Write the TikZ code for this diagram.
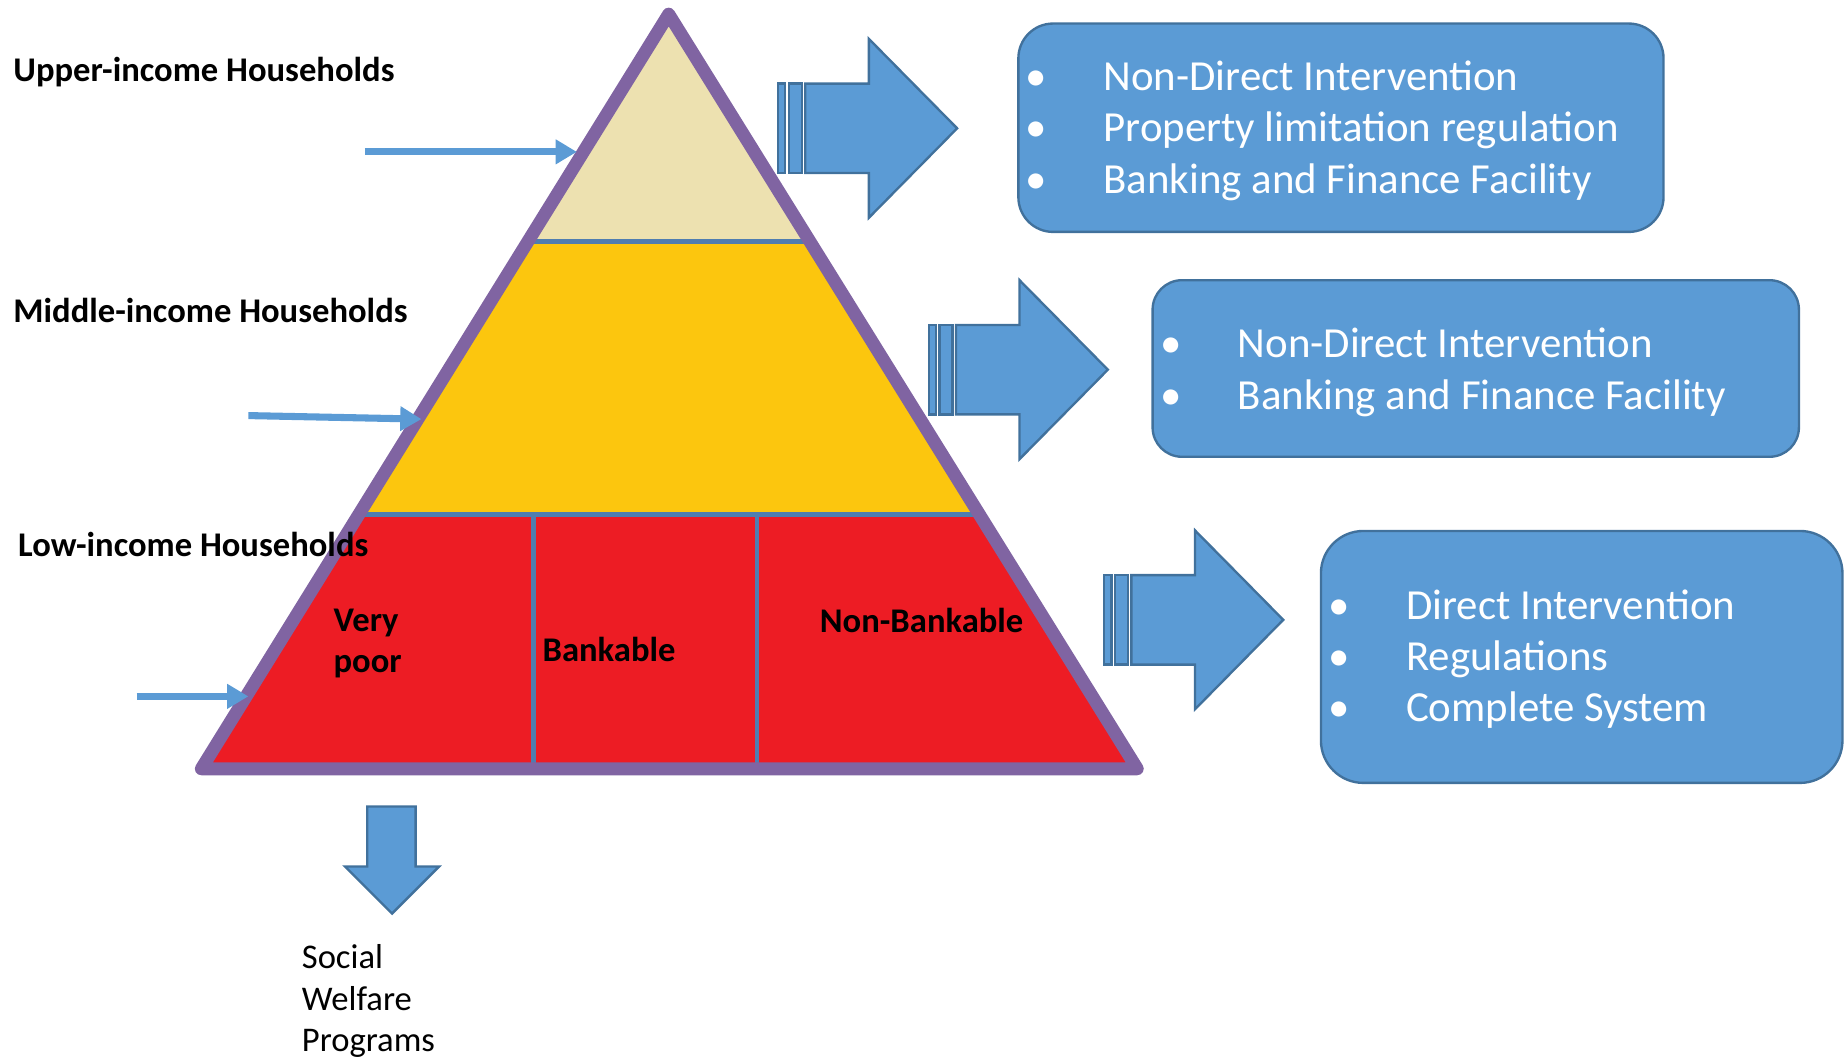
\documentclass[tikz,border=0pt]{standalone}
\usepackage{fontspec}
\setmainfont{Carlito}
\usetikzlibrary{arrows.meta,calc}
\definecolor{TopClr}{rgb}{0.929,0.882,0.69}
\definecolor{MidClr}{rgb}{0.988,0.776,0.055}
\definecolor{LowClr}{rgb}{0.929,0.11,0.141}
\definecolor{EdgeClr}{rgb}{0.502,0.392,0.635}
\definecolor{TierClr}{rgb}{0.31,0.49,0.69}
\definecolor{BlockClr}{rgb}{0.357,0.608,0.835}
\definecolor{BlockLineClr}{rgb}{0.255,0.443,0.612}

\newcommand{\bul}{\hspace*{8pt}\makebox[0pt]{\textbullet}\hspace*{28.5pt}}

\tikzset{
  tierline/.style={line width=2pt,color=TierClr},
  pointer/.style={line width=3pt,color=BlockClr,-{Triangle[length=9pt,width=10pt]}},
  blockfill/.style={fill=BlockClr,draw=BlockLineClr,line width=1pt},
  infobox/.style={blockfill,rounded corners=#1,inner sep=0pt},
  listtxt/.style={text=white,inner sep=0pt,anchor=base west,font=\fontsize{18.2}{21.75}\selectfont},
  grouplbl/.style={inner sep=0pt,anchor=base west,font=\fontsize{14.7}{17.5}\selectfont\bfseries},
  welfaretxt/.style={inner sep=0pt,anchor=base west,font=\fontsize{14.7}{17.75}\selectfont},
  stripearrow/.pic={
    \filldraw[blockfill] (0,-38) rectangle (6,38);
    \filldraw[blockfill] (9,-38) rectangle (20,38);
    \filldraw[blockfill] (23,-38) -- (77,-38) -- (77,-76) -- (152,0)
      -- (77,76) -- (77,38) -- (23,38) -- cycle;
  }
}

\begin{document}
\begin{tikzpicture}[x=0.5pt,y=-0.5pt]
\useasboundingbox (0,0) rectangle (1568,898);

\coordinate (apex) at (568,12);
\coordinate (bl) at (171,653);
\coordinate (br) at (966,653);

% tiers of the pyramid
\begin{scope}
  \clip (apex) -- (bl) -- (br) -- cycle;
  \fill[LowClr] (0,437) rectangle (1568,653);
  \fill[MidClr] (0,205) rectangle (1568,437);
  \fill[TopClr] (0,0) rectangle (1568,205);
\end{scope}

\coordinate (topL) at ($(apex)!0.301!(bl)$);
\coordinate (topR) at ($(apex)!0.301!(br)$);
\coordinate (lowL) at ($(apex)!0.663!(bl)$);
\coordinate (lowR) at ($(apex)!0.663!(br)$);
\coordinate (cut1t) at (453,437);
\coordinate (cut1b) at (453,653);
\coordinate (cut2t) at (643,437);
\coordinate (cut2b) at (643,653);

\draw[tierline] (topL) -- (topR);
\draw[tierline] (lowL) -- (lowR);
\draw[tierline] (cut1t) -- (cut1b);
\draw[tierline] (cut2t) -- (cut2b);

\draw[EdgeClr,line width=5.5pt,line join=round] (apex) -- (bl) -- (br) -- cycle;

% group labels
\node[grouplbl] (uplbl) at (11,69) {Upper-income Households};
\node[grouplbl] (midlbl) at (11,274) {Middle-income Households};
\node[grouplbl] (lowlbl) at (15,473) {Low-income Households};
\node[grouplbl] (verypoor) at (283,536.5) {\begin{tabular}[t]{@{}l@{}}Very\\poor\end{tabular}};
\node[grouplbl] (bankable) at (460.5,562) {Bankable};
\node[grouplbl] (nonbank) at (696,537.5) {Non-Bankable};

% pointers to the tiers
\coordinate (upfrom) at (310,129);
\coordinate (upto) at (490,129);
\coordinate (midfrom) at (211,353);
\coordinate (midto) at (358,356);
\coordinate (lowfrom) at (116,591.5);
\coordinate (lowto) at (211,591.5);
\draw[pointer] (upfrom) -- (upto);
\draw[pointer] (midfrom) -- (midto);
\draw[pointer] (lowfrom) -- (lowto);

% block arrows
\pic (uparrow) at (661,109) {stripearrow};
\pic (midarrow) at (789,314) {stripearrow};
\pic (lowarrow) at (938,526.5) {stripearrow};
\filldraw[blockfill] (312,685) -- (353,685) -- (353,736) -- (373,736)
  -- (333,776) -- (293,736) -- (312,736) -- cycle;

\node[welfaretxt] (welfare) at (256,822.5)
  {\begin{tabular}[t]{@{}l@{}}Social\\Welfare\\Programs\end{tabular}};

% policy boxes
\node[infobox=14.75pt,minimum width=274pt,minimum height=88.5pt] (upbox) at (1139,108.5) {};
\node[infobox=12.5pt,minimum width=274.5pt,minimum height=75pt] (midbox) at (1253.5,313) {};
\node[infobox=18pt,minimum width=221.5pt,minimum height=107pt] (lowbox) at (1343.5,558) {};

\node[listtxt] (uplist) at ($(upbox.west)+(0,-31.5)$)
  {\begin{tabular}[t]{@{}l@{}}\bul Non-Direct Intervention\\
   \bul Property limitation regulation\\ \bul Banking and Finance Facility\end{tabular}};
\node[listtxt] (midlist) at ($(midbox.west)+(0,-9)$)
  {\begin{tabular}[t]{@{}l@{}}\bul Non-Direct Intervention\\
   \bul Banking and Finance Facility\end{tabular}};
\node[listtxt] (lowlist) at ($(lowbox.west)+(0,-32)$)
  {\begin{tabular}[t]{@{}l@{}}\bul Direct Intervention\\
   \bul Regulations\\ \bul Complete System\end{tabular}};

\end{tikzpicture}
\end{document}
